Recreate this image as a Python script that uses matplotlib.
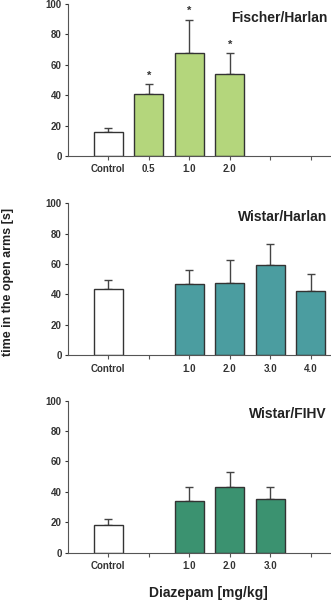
import numpy as np
import matplotlib.pyplot as plt

plt.rcParams['font.family'] = ['Liberation Sans', 'DejaVu Sans']

# Fischer/Harlan
fh_labels = ["Control", "0.5", "1.0", "2.0", "", ""]
fh_pos = [0, 1, 2, 3]
fh_mean = [16, 40.5, 67.5, 54]
fh_err = [2.2, 6.6, 22.2, 13.5]
fh_sig = [False, True, True, True]

# Wistar/Harlan
wh_labels = ["Control", "", "1.0", "2.0", "3.0", "4.0"]
wh_pos = [0, 2, 3, 4, 5]
wh_mean = [43.4, 46.9, 47.4, 59.6, 42.1]
wh_err = [6.2, 9.0, 15.1, 13.4, 11.6]

# Wistar/FIHV
wf_labels = ["Control", "", "1.0", "2.0", "3.0", ""]
wf_pos = [0, 2, 3, 4]
wf_mean = [17.9, 33.8, 43.4, 35.2]
wf_err = [3.9, 9.6, 9.4, 7.7]

panels = [
    ("Fischer/Harlan", fh_labels, fh_pos, fh_mean, fh_err, "#b4d67c", fh_sig),
    ("Wistar/Harlan", wh_labels, wh_pos, wh_mean, wh_err, "#4b9da0", None),
    ("Wistar/FIHV", wf_labels, wf_pos, wf_mean, wf_err, "#3b9270", None),
]
bottoms = [0.74, 0.408, 0.079]

fig = plt.figure(figsize=(3.31, 6.0), dpi=100)
for (title, labels, pos, mean, err, col, sig), b in zip(panels, bottoms):
    ax = fig.add_axes([0.205, b, 0.795, 0.2533])
    colors = ["white"] + [col] * (len(pos) - 1)
    ax.bar(pos, mean, width=0.72, color=colors, edgecolor="#333333", linewidth=1.0, zorder=2)
    ax.errorbar(pos, mean, yerr=[np.zeros(len(err)), err], fmt="none",
                ecolor="#444444", elinewidth=1.0, capsize=3, capthick=1.0, zorder=1)
    if sig is not None:
        for p, m, e, s in zip(pos, mean, err, sig):
            if s:
                ax.text(p, m + e + 2.5, "*", ha="center", va="bottom",
                        fontsize=8, fontweight="bold", color="#333333")
    ax.set_xlim(-1.0, 5.5)
    ax.set_ylim(0, 100)
    ax.set_xticks(range(6))
    ax.set_xticklabels(labels, fontsize=7, fontweight="bold", color="#333333")
    ax.set_yticks([0, 20, 40, 60, 80, 100])
    ax.tick_params(axis="y", labelsize=7, colors="#333333", length=2.5, width=0.8, pad=2)
    ax.tick_params(axis="x", length=3, width=0.8, color="#555555", pad=3)
    for lab in ax.get_yticklabels():
        lab.set_fontweight("bold")
    ax.spines["top"].set_visible(False)
    ax.spines["right"].set_visible(False)
    ax.spines["left"].set_color("#555555")
    ax.spines["bottom"].set_color("#555555")
    ax.text(0.985, 0.91, title, transform=ax.transAxes, ha="right", va="center",
            fontsize=10, fontweight="bold", color="#222222")

fig.text(0.025, 0.53, "time in the open arms [s]", rotation=90, ha="center", va="center",
         fontsize=9, fontweight="bold", color="#222222")
fig.text(0.63, 0.012, "Diazepam [mg/kg]", ha="center", va="center",
         fontsize=10, fontweight="bold", color="#222222")

fig.savefig("out.png", dpi=100)
